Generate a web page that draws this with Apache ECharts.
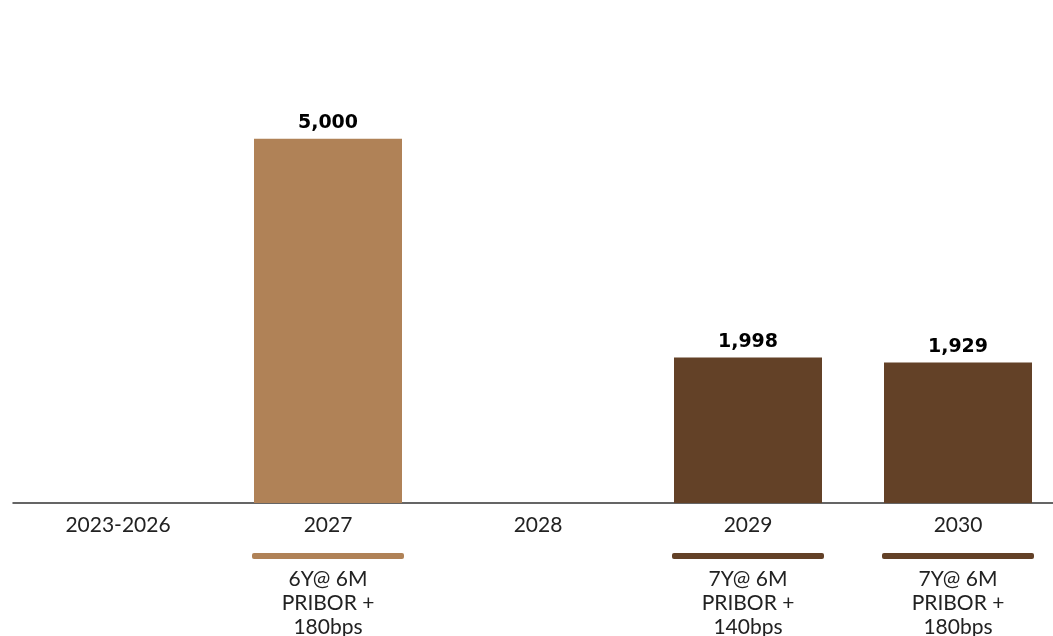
<!DOCTYPE html>
<html>
<head>
<meta charset="utf-8">
<script src="https://cdn.jsdelivr.net/npm/echarts@6/dist/echarts.min.js"></script>
<style>
  html, body { margin: 0; padding: 0; background: #fff; }
  #chart { width: 1053px; height: 636px; }
</style>
</head>
<body>
<div id="chart"></div>
<script>
const categories = ['2023-2026', '2027', '2028', '2029', '2030']
const amounts = [null, 5000, null, 1998, 1929]
const barColors = ['#b08257', '#b08257', '#b08257', '#634127', '#634127']
const notes = ['', '6Y@ 6M\nPRIBOR +\n180bps', '', '7Y@ 6M\nPRIBOR +\n140bps', '7Y@ 6M\nPRIBOR +\n180bps']
const noteMarks = [null, 1, null, 1, 1]

const chart = echarts.init(document.getElementById('chart'))

chart.setOption({
  animation: false,
  grid: [
    { left: 13, width: 1050, top: 66, height: 437, outerBoundsMode: 'none' },
    { left: 13, width: 1050, top: 553, height: 6, outerBoundsMode: 'none' }
  ],
  xAxis: [
    {
      type: 'category',
      gridIndex: 0,
      data: categories,
      axisTick: { show: false },
      axisLine: { lineStyle: { color: '#333', width: 1.5 } },
      axisLabel: {
        color: '#222',
        fontFamily: 'Lato',
        fontSize: 21,
        margin: 12
      }
    },
    {
      type: 'category',
      gridIndex: 1,
      data: categories,
      show: false
    }
  ],
  yAxis: [
    { type: 'value', gridIndex: 0, min: 0, max: 6000, show: false },
    { type: 'value', gridIndex: 1, min: 0, max: 1, show: false }
  ],
  series: [
    {
      type: 'bar',
      xAxisIndex: 0,
      yAxisIndex: 0,
      barWidth: 148,
      data: amounts.map((v, i) => ({ value: v, itemStyle: { color: barColors[i] } })),
      label: {
        show: true,
        position: 'top',
        distance: 6,
        color: '#000',
        fontFamily: 'DejaVu Sans',
        fontWeight: 'bold',
        fontSize: 19,
        formatter: (p) => p.value.toLocaleString('en-US')
      }
    },
    {
      type: 'bar',
      xAxisIndex: 1,
      yAxisIndex: 1,
      barWidth: 152,
      data: noteMarks.map((v, i) => ({
        value: v,
        itemStyle: { color: barColors[i], borderRadius: 2 }
      })),
      label: {
        show: true,
        position: 'bottom',
        distance: 8,
        color: '#222',
        fontFamily: 'Lato',
        fontSize: 21,
        lineHeight: 24,
        align: 'center',
        formatter: (p) => notes[p.dataIndex]
      }
    }
  ]
})
</script>
</body>
</html>
